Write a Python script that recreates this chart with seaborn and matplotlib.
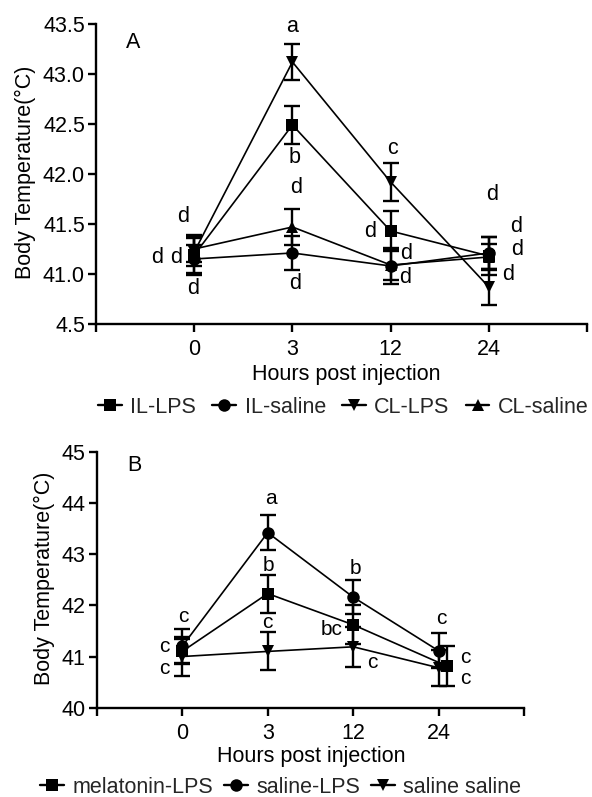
import numpy as np
import pandas as pd
import matplotlib
matplotlib.use("Agg")
import matplotlib.pyplot as plt
import seaborn as sns
from matplotlib.lines import Line2D

# ---------------- data ----------------
hours = ["0", "3", "12", "24"]

# Panel A
groups_A = ["IL-LPS", "IL-saline", "CL-LPS", "CL-saline"]
il_lps_mean = [41.19, 42.49, 41.43, 41.18]
il_lps_sem = [0.20, 0.19, 0.20, 0.19]
il_saline_mean = [41.15, 41.21, 41.08, 41.21]
il_saline_sem = [0.14, 0.17, 0.18, 0.16]
cl_lps_mean = [41.22, 43.12, 41.92, 40.87]
cl_lps_sem = [0.14, 0.18, 0.19, 0.18]
cl_saline_mean = [41.25, 41.47, 41.09, 41.17]
cl_saline_sem = [0.13, 0.18, 0.15, 0.13]

# Panel B
groups_B = ["melatonin-LPS", "saline-LPS", "saline saline"]
mel_lps_mean = [41.10, 42.23, 41.62, 40.81]
mel_lps_sem = [0.25, 0.37, 0.38, 0.39]
sal_lps_mean = [41.20, 43.42, 42.16, 41.11]
sal_lps_sem = [0.33, 0.34, 0.33, 0.34]
sal_sal_mean = [41.00, 41.10, 41.19, 40.78]
sal_sal_sem = [0.38, 0.37, 0.39, 0.35]

yticklabels_A = ["4.5", "41.0", "41.5", "42.0", "42.5", "43.0", "43.5"]
yticklabels_B = ["40", "41", "42", "43", "44", "45"]

# significance letters: (x position in category units, y value, text)
letters_A = [
    (-0.11, 41.57, "d"), (-0.38, 41.16, "d"), (-0.18, 41.16, "d"), (-0.01, 40.85, "d"),
    (1.00, 43.47, "a"), (1.02, 42.16, "b"), (1.04, 41.86, "d"), (1.03, 40.90, "d"),
    (2.02, 42.25, "c"), (1.79, 41.42, "d"), (2.16, 41.20, "d"), (2.15, 40.96, "d"),
    (3.03, 41.79, "d"), (3.28, 41.47, "d"), (3.29, 41.24, "d"), (3.20, 40.99, "d"),
]
letters_B = [
    (0.01, 41.79, "c"), (-0.21, 41.19, "c"), (-0.21, 40.77, "c"),
    (1.04, 44.09, "a"), (1.01, 42.77, "b"), (0.99, 41.67, "c"),
    (2.03, 42.72, "b"), (1.75, 41.53, "bc"), (2.22, 40.89, "c"),
    (3.03, 41.75, "c"), (3.31, 40.98, "c"), (3.31, 40.57, "c"),
]

# ---------------- style ----------------
sns.set_theme(style="ticks")
plt.rcParams["font.family"] = ["Liberation Sans", "DejaVu Sans"]
FS = 15.5
LFS_A = 15.5
LFS_B = 15

markers_A = {"IL-LPS": "s", "IL-saline": "o", "CL-LPS": "v", "CL-saline": "^"}
markers_B = {"melatonin-LPS": "s", "saline-LPS": "o", "saline saline": "v"}
dodge_B = {"melatonin-LPS": [0, 0, 0, 0.1], "saline-LPS": [0, 0, 0, 0], "saline saline": [0, 0, 0, 0]}

fig = plt.figure(figsize=(5.92, 7.97), dpi=100)
axA = fig.add_axes([0.1622, 0.5935, 0.8294, 0.3764])
axB = fig.add_axes([0.1633, 0.1120, 0.7223, 0.3212])


def build(groups, means, sems, dodge=None):
    rows = []
    for g, m, s in zip(groups, means, sems):
        off = dodge[g] if dodge else [0] * len(hours)
        for i, (mv, sv) in enumerate(zip(m, s)):
            rows.append({"group": g, "x": i + off[i], "temp": mv, "sem": sv})
    return pd.DataFrame(rows)


dfA = build(groups_A, [il_lps_mean, il_saline_mean, cl_lps_mean, cl_saline_mean],
            [il_lps_sem, il_saline_sem, cl_lps_sem, cl_saline_sem])
dfB = build(groups_B, [mel_lps_mean, sal_lps_mean, sal_sal_mean],
            [mel_lps_sem, sal_lps_sem, sal_sal_sem], dodge_B)


def draw(ax, df, markers, ylim, yticklabels, ystep):
    for g in markers:
        sub = df[df["group"] == g]
        ax.errorbar(sub["x"], sub["temp"], yerr=sub["sem"], fmt="none", ecolor="black",
                    elinewidth=1.7, capsize=5.5, capthick=1.7, zorder=2)
    sns.lineplot(data=df, x="x", y="temp", style="group", markers=markers, dashes=False,
                 color="black", linewidth=1.2, markersize=9, markeredgewidth=0,
                 legend=False, ax=ax, sort=False, errorbar=None, zorder=3)
    ax.set_xlim(-1, 4)
    ax.set_xticks(range(-1, 5))
    ax.set_xticklabels([""] + hours + [""], fontsize=FS)
    ax.set_ylim(*ylim)
    ax.set_yticks(np.arange(ylim[0], ylim[1] + ystep / 2, ystep))
    ax.set_yticklabels(yticklabels, fontsize=FS)
    sns.despine(ax=ax)
    for sp in ["left", "bottom"]:
        ax.spines[sp].set_linewidth(1.7)
        ax.spines[sp].set_color("black")
    ax.tick_params(axis="both", direction="out", length=6, width=1.7, color="black",
                   labelcolor="black")
    ax.tick_params(axis="x", pad=5)
    ax.tick_params(axis="y", pad=2)
    ax.set_xlabel("Hours post injection", fontsize=FS, color="black")
    ax.set_ylabel("Body Temperature(°C)", fontsize=FS, color="black")


draw(axA, dfA, markers_A, (40.5, 43.5), yticklabels_A, 0.5)
draw(axB, dfB, markers_B, (40, 45), yticklabels_B, 1)

axA.yaxis.set_label_coords(-0.122, 0.505)
axA.xaxis.set_label_coords(0.509, -0.132)
axB.yaxis.set_label_coords(-0.098, 0.507)
axB.xaxis.set_label_coords(0.501, -0.150)

for x, y, t in letters_A:
    axA.text(x, y, t, fontsize=LFS_A, ha="center", va="center", color="black")
for x, y, t in letters_B:
    axB.text(x, y, t, fontsize=LFS_B, ha="center", va="center", color="black")

axA.text(-0.62, 43.31, "A", fontsize=FS, ha="center", va="center", color="black")
axB.text(-0.56, 44.74, "B", fontsize=FS, ha="center", va="center", color="black")


def handles(markers):
    return [Line2D([0], [0], color="black", lw=1.7, marker=m, markersize=9,
                   markeredgewidth=0) for m in markers.values()]


fig.legend(handles(markers_A), list(markers_A.keys()), loc="center",
           bbox_to_anchor=(0.580, 0.489), ncol=4, frameon=False, fontsize=FS,
           handlelength=1.1, handletextpad=0.4, columnspacing=0.75, borderpad=0,
           borderaxespad=0)
fig.legend(handles(markers_B), list(markers_B.keys()), loc="center",
           bbox_to_anchor=(0.474, 0.0125), ncol=3, frameon=False, fontsize=FS,
           handlelength=1.1, handletextpad=0.4, columnspacing=0.5, borderpad=0,
           borderaxespad=0)

fig.savefig("out.png", dpi=100, facecolor="white")
